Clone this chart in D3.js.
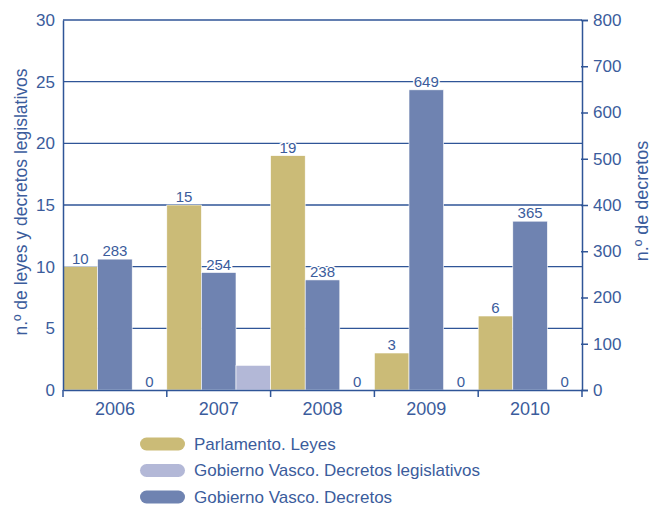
<!DOCTYPE html>
<html>
<head>
<meta charset="utf-8">
<script src="https://cdn.jsdelivr.net/npm/d3@7"></script>
<style>
  body { margin: 0; background: #fff; }
  text { font-family: "Liberation Sans", Arial, sans-serif; fill: #3b5c9c; }
</style>
</head>
<body>
<div id="chart"></div>
<script>
// data
const years = ["2006", "2007", "2008", "2009", "2010"];
const leyes = [10, 15, 19, 3, 6];
const decretosLeg = [0, 2, 0, 0, 0];
const decretosLegLabels = ["0", null, "0", "0", "0"];
const decretos = [283, 254, 238, 649, 365];
const leftTicks = [0, 5, 10, 15, 20, 25, 30];
const rightTicks = [0, 100, 200, 300, 400, 500, 600, 700, 800];
const legendLabels = [
  "Parlamento. Leyes",
  "Gobierno Vasco. Decretos legislativos",
  "Gobierno Vasco. Decretos"
];

const W = 652, H = 506;
const margin = { top: 20, right: 70, bottom: 116, left: 63 };
const width = W - margin.left - margin.right,
  height = H - margin.top - margin.bottom;

const colors = { leyes: "#cbbb77", decLeg: "#b3b8d7", dec: "#6f83b1" };
const axisColor = "#2f5597";

const svg = d3.select("#chart").append("svg")
  .attr("width", W).attr("height", H);
const g = svg.append("g")
  .attr("transform", "translate(" + margin.left + "," + margin.top + ")");

const x = d3.scaleBand().domain(years).range([0, width]).padding(0);
const xInner = d3.scaleBand().domain(["leyes", "dec", "decLeg"])
  .range([0, x.bandwidth()]);
const yL = d3.scaleLinear().domain([0, 30]).range([height, 0]);
const yR = d3.scaleLinear().domain([0, 800]).range([height, 0]);

// gridlines from left axis
g.selectAll(".grid").data(leftTicks.slice(1)).enter().append("line")
  .attr("x1", 0).attr("x2", width)
  .attr("y1", d => yL(d)).attr("y2", d => yL(d))
  .attr("stroke", axisColor).attr("stroke-width", 1.3);

// bars
const groups = g.selectAll(".yr").data(years).enter().append("g")
  .attr("transform", d => "translate(" + x(d) + ",0)");

function addBars(key, values, scale) {
  groups.append("rect")
    .attr("x", xInner(key))
    .attr("width", xInner.bandwidth())
    .attr("y", (d, i) => scale(values[i]))
    .attr("height", (d, i) => height - scale(values[i]))
    .attr("fill", colors[key])
    .attr("stroke", "#fff").attr("stroke-width", 0.6);
}
addBars("leyes", leyes, yL);
addBars("dec", decretos, yR);
addBars("decLeg", decretosLeg, yL);

function addLabels(key, values, labels, scale) {
  groups.append("text")
    .attr("x", xInner(key) + xInner.bandwidth() / 2)
    .attr("y", (d, i) => scale(values[i]) - 3)
    .attr("text-anchor", "middle")
    .style("font-size", "15px")
    .attr("stroke", "#fff").attr("stroke-width", 3)
    .attr("paint-order", "stroke")
    .text((d, i) => labels[i]);
}
addLabels("leyes", leyes, leyes.map(String), yL);
addLabels("dec", decretos, decretos.map(String), yR);
addLabels("decLeg", decretosLeg, decretosLegLabels, yL);

// left axis
const leftAxis = g.append("g")
  .call(d3.axisLeft(yL).tickValues(leftTicks).tickSize(0).tickPadding(8));
// right axis
const rightAxis = g.append("g")
  .attr("transform", "translate(" + width + ",0)")
  .call(d3.axisRight(yR).tickValues(rightTicks).tickSize(6).tickPadding(5));
// bottom axis, ticks at category boundaries
const bottomAxis = g.append("g")
  .attr("transform", "translate(0," + height + ")")
  .call(d3.axisBottom(x).tickSize(0).tickPadding(12));
g.append("g").selectAll("line")
  .data(years.concat(["end"])).enter().append("line")
  .attr("x1", (d, i) => i * x.step()).attr("x2", (d, i) => i * x.step())
  .attr("y1", height).attr("y2", height + 7)
  .attr("stroke", axisColor).attr("stroke-width", 1.5);

[leftAxis, rightAxis, bottomAxis].forEach(a => {
  a.select(".domain").attr("stroke", axisColor).attr("stroke-width", 1.5);
  a.selectAll(".tick line").attr("stroke", axisColor).attr("stroke-width", 1.5);
  a.selectAll("text").style("font-size", "17px").attr("fill", "#3b5c9c")
    .style("font-family", "Liberation Sans, Arial, sans-serif");
});
bottomAxis.selectAll("text").style("font-size", "18px");
rightAxis.selectAll(".tick line").attr("x1", -1);

// axis titles
svg.append("text")
  .attr("transform", "translate(27,202) rotate(-90)")
  .attr("text-anchor", "middle")
  .style("font-size", "17.5px")
  .text("n.º de leyes y decretos legislativos");
svg.append("text")
  .attr("transform", "translate(648,201) rotate(-90)")
  .attr("text-anchor", "middle")
  .style("font-size", "18px")
  .text("n.º de decretos");

// legend
const legColors = [colors.leyes, colors.decLeg, colors.dec];
const leg = svg.append("g").attr("transform", "translate(140,444)");
legendLabels.forEach((t, i) => {
  leg.append("rect")
    .attr("x", 0).attr("y", i * 26.5 - 6.5)
    .attr("width", 45).attr("height", 13).attr("rx", 6.5)
    .attr("fill", legColors[i]);
  leg.append("text")
    .attr("x", 54).attr("y", i * 26.5)
    .attr("dominant-baseline", "central")
    .style("font-size", "17px")
    .text(t);
});
</script>
</body>
</html>
